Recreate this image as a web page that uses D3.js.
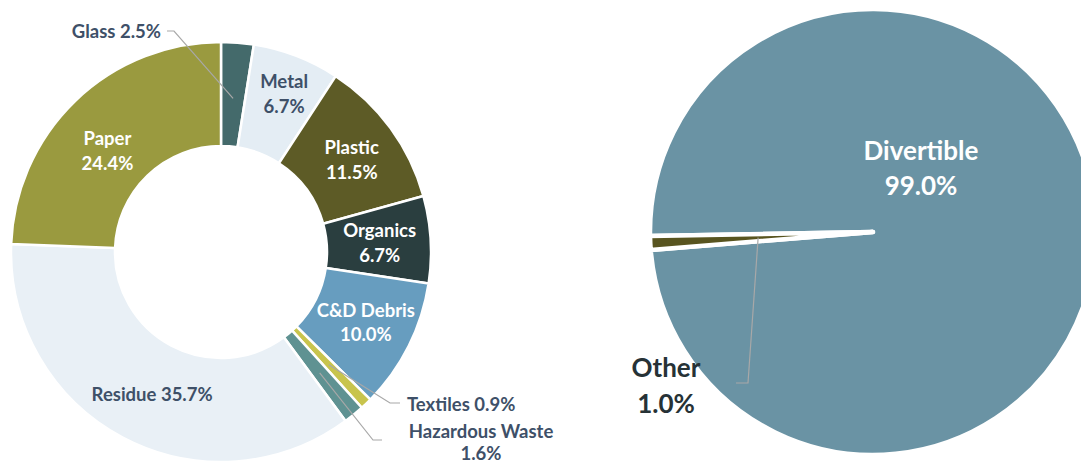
<!DOCTYPE html>
<html>
<head>
<meta charset="utf-8">
<script src="https://cdn.jsdelivr.net/npm/d3@7"></script>
<style>
  html, body { margin: 0; padding: 0; background: #ffffff; }
  svg { display: block; }
  text { font-family: Lato, "Open Sans", sans-serif; font-weight: 700; }
</style>
</head>
<body>
<svg id="chart" width="1081" height="464"></svg>
<script>
// Waste composition (percent of total), clockwise from 12 o'clock
const wasteCategories = ["Glass", "Metal", "Plastic", "Organics", "C&D Debris", "Textiles", "Hazardous Waste", "Residue", "Paper"];
const wasteShares     = [2.5, 6.7, 11.5, 6.7, 10.0, 0.9, 1.6, 35.7, 24.4];
const wasteColors     = ["#446a6b", "#e4edf4", "#5d5b26", "#2a3e3f", "#679dbf", "#c8c44d", "#5f9292", "#e9f0f6", "#9a9a3f"];

// Diversion potential (percent of total)
const diversionCategories = ["Divertible", "Other"];
const diversionShares     = [99.0, 1.0];
const diversionColors     = ["#6a93a4", "#58541f"];

const fmt = v => v.toFixed(1) + "%";
const slate = "#3e5068";
const leaderColor = "#a8a8a8";
const smallFont = "18.5px";
const largeFont = "26px";

const svg = d3.select("#chart");

// ---------- Donut: waste composition ----------
const donut = { cx: 221, cy: 252, inner: 106, outer: 210 };
const g1 = svg.append("g").attr("transform", `translate(${donut.cx},${donut.cy})`);

const pie1 = d3.pie().sort(null).value(d => d.value).startAngle(0).endAngle(2 * Math.PI);
const arcs1 = pie1(wasteCategories.map((name, i) => ({ name, value: wasteShares[i], color: wasteColors[i] })));

const arc1 = d3.arc().innerRadius(donut.inner).outerRadius(donut.outer);

g1.selectAll("path.slice")
  .data(arcs1)
  .join("path")
  .attr("class", "slice")
  .attr("d", arc1)
  .attr("fill", d => d.data.color)
  .attr("stroke", "#ffffff")
  .attr("stroke-width", 2.5)
  .attr("stroke-linejoin", "round");

// label styling: inside two-line labels placed near the slice centroid, outside ones with leaders
const insideLabels = {
  "Metal":      { r: 170, dx: 2,  dy: 0,  color: slate },
  "Plastic":    { r: 162, dx: 0,  dy: 3,  color: "#ffffff" },
  "Organics":   { r: 162, dx: -3, dy: 0,  color: "#ffffff" },
  "C&D Debris": { r: 162, dx: 0,  dy: -3, color: "#ffffff" },
  "Paper":      { r: 155, dx: -6, dy: 10, color: "#ffffff" }
};

arcs1.forEach(a => {
  const cfg = insideLabels[a.data.name];
  if (!cfg) return;
  const c = d3.arc().innerRadius(cfg.r).outerRadius(cfg.r).centroid(a);
  const x = c[0] + cfg.dx, y = c[1] + cfg.dy;
  const t = g1.append("text")
    .attr("text-anchor", "middle")
    .attr("fill", cfg.color)
    .style("font-size", smallFont);
  t.append("tspan").attr("x", x).attr("y", y - 12).attr("dominant-baseline", "central").text(a.data.name);
  t.append("tspan").attr("x", x).attr("y", y + 12.5).attr("dominant-baseline", "central").text(fmt(a.data.value));
});

// Residue: single line label
arcs1.filter(a => a.data.name === "Residue").forEach(a => {
  const c = d3.arc().innerRadius(160).outerRadius(160).centroid(a);
  g1.append("text")
    .attr("x", c[0] + 6).attr("y", c[1] + 1)
    .attr("text-anchor", "middle")
    .attr("dominant-baseline", "central")
    .attr("fill", slate)
    .style("font-size", smallFont)
    .text(`${a.data.name} ${fmt(a.data.value)}`);
});

// Outside labels with elbow leader lines (offsets from donut centre)
const outsideLabels = {
  "Glass":           { r: 154, elbow: [-47, -221], end: [-54, -221], text: [-60, -221], anchor: "end", gap: 0, lines: d => [`${d.name} ${fmt(d.value)}`] },
  "Textiles":        { r: 156, elbow: [169, 151], end: [179, 151], text: [186, 152], anchor: "start", gap: 0, lines: d => [`${d.name} ${fmt(d.value)}`] },
  "Hazardous Waste": { r: 156, elbow: [152, 188], end: [161, 188], text: [260, 179], anchor: "middle", gap: 22, lines: d => [d.name, fmt(d.value)] }
};

const leader = d3.line();
arcs1.forEach(a => {
  const cfg = outsideLabels[a.data.name];
  if (!cfg) return;
  const start = d3.arc().innerRadius(cfg.r).outerRadius(cfg.r).centroid(a);
  g1.append("path")
    .attr("d", leader([start, cfg.elbow, cfg.end]))
    .attr("fill", "none")
    .attr("stroke", leaderColor)
    .attr("stroke-width", 1.2);
  const t = g1.append("text")
    .attr("text-anchor", cfg.anchor)
    .attr("fill", slate)
    .style("font-size", smallFont);
  cfg.lines(a.data).forEach((line, i) => {
    t.append("tspan")
      .attr("x", cfg.text[0])
      .attr("y", cfg.text[1] + i * cfg.gap)
      .attr("dominant-baseline", "central")
      .text(line);
  });
});

// ---------- Pie: diversion potential ----------
const pieGeom = { cx: 873, cy: 232, r: 223, start: 269 };
const g2 = svg.append("g").attr("transform", `translate(${pieGeom.cx},${pieGeom.cy})`);

const a0 = pieGeom.start * Math.PI / 180;
const pie2 = d3.pie().sort(null).value(d => d.value).startAngle(a0).endAngle(a0 + 2 * Math.PI);
const arcs2 = pie2(diversionCategories.map((name, i) => ({ name, value: diversionShares[i], color: diversionColors[i] })));
const arc2 = d3.arc().innerRadius(0).outerRadius(pieGeom.r);

g2.selectAll("path.slice")
  .data(arcs2)
  .join("path")
  .attr("class", "slice")
  .attr("d", arc2)
  .attr("fill", d => d.data.color)
  .attr("stroke", "#ffffff")
  .attr("stroke-width", 4.5)
  .attr("stroke-linejoin", "round");

// Divertible label
arcs2.filter(a => a.data.name === "Divertible").forEach(a => {
  const t = g2.append("text")
    .attr("text-anchor", "middle")
    .attr("fill", "#ffffff")
    .style("font-size", largeFont);
  t.append("tspan").attr("x", 48).attr("y", -82).attr("dominant-baseline", "central").text(a.data.name);
  t.append("tspan").attr("x", 48).attr("y", -47).attr("dominant-baseline", "central").text(fmt(a.data.value));
});

// Other label with leader
arcs2.filter(a => a.data.name === "Other").forEach(a => {
  const start = d3.arc().innerRadius(115).outerRadius(115).centroid(a);
  g2.append("path")
    .attr("d", leader([start, [-125, 151], [-137, 151]]))
    .attr("fill", "none")
    .attr("stroke", leaderColor)
    .attr("stroke-width", 1.2);
  const t = g2.append("text")
    .attr("text-anchor", "middle")
    .attr("fill", "#263236")
    .style("font-size", largeFont);
  t.append("tspan").attr("x", -207).attr("y", 135).attr("dominant-baseline", "central").text(a.data.name);
  t.append("tspan").attr("x", -207).attr("y", 171).attr("dominant-baseline", "central").text(fmt(a.data.value));
});
</script>
</body>
</html>
